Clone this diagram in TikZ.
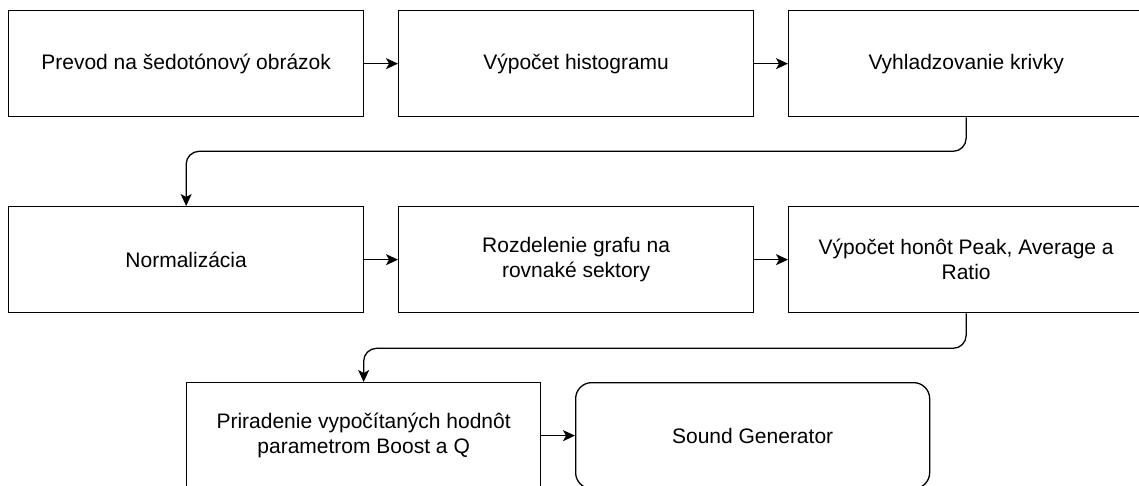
\documentclass[tikz,border=0pt]{standalone}
\usepackage{fontspec}
\setmainfont{Liberation Sans}
\usetikzlibrary{arrows.meta}
\begin{document}
\begin{tikzpicture}[x=1pt,y=-1pt,
  stepbox/.style={draw=black,line width=1.3pt,minimum width=355pt,minimum height=106pt,align=center,font=\fontsize{21}{25}\selectfont,inner sep=0pt,anchor=north west},
  flow/.style={line width=1.3pt,-{Stealth[length=12pt,width=11pt,inset=3pt]},rounded corners=13pt}]
\useasboundingbox (0,0) rectangle (1139,486);
\begin{scope}
\clip (0,0) rectangle (1139,486);
\node[stepbox] (a) at (8,10) {Prevod na šedotónový obrázok};
\node[stepbox] (b) at (398,10) {Výpočet histogramu};
\node[stepbox] (c) at (788,10) {Vyhladzovanie krivky};
\node[stepbox] (d) at (8,206) {Normalizácia};
\node[stepbox] (e) at (398,206) {Rozdelenie grafu na\\rovnaké sektory};
\node[stepbox] (f) at (788,206) {Výpočet honôt Peak, Average a\\Ratio};
\node[stepbox,minimum width=354pt] (g) at (186,382) {Priradenie vypočítaných hodnôt\\parametrom Boost a Q};
\node[stepbox,minimum width=354pt,rounded corners=16pt] (h) at (575,382) {Sound Generator};
\draw[flow] (a) -- (b);
\draw[flow] (b) -- (c);
\draw[flow] (d) -- (e);
\draw[flow] (e) -- (f);
\draw[flow] (g) -- (h);
\draw[flow] (c.south) -- ++(0,34) -| (d.north);
\draw[flow] (f.south) -- ++(0,35) -| (g.north);
\end{scope}
\end{tikzpicture}
\end{document}
